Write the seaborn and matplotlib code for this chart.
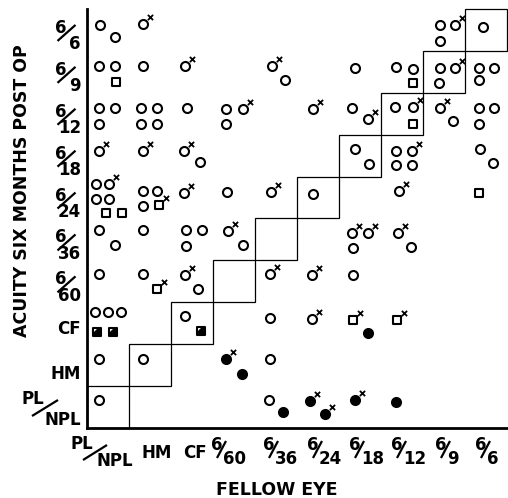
import numpy as np
import pandas as pd
import matplotlib
matplotlib.use("Agg")
import matplotlib.pyplot as plt
import seaborn as sns
from matplotlib.patches import Rectangle

# ---------------- data ----------------
# categories (bottom/left to top/right)
fellow_eye = ["PL/NPL", "HM", "CF", "6/60", "6/36", "6/24", "6/18", "6/12", "6/9", "6/6"]
post_op = ["PL/NPL", "HM", "CF", "6/60", "6/36", "6/24", "6/18", "6/12", "6/9", "6/6"]

# symbol codes: o open circle, m open circle with cross, s open square,
# sx open square with cross, h half-filled square, f filled circle,
# fm filled circle with cross
# each post-op row: list of (fellow eye acuity, symbol)
row_6_6 = [("PL/NPL", "o"), ("PL/NPL", "o"), ("HM", "m"),
           ("6/9", "o"), ("6/9", "m"), ("6/9", "o"), ("6/6", "o")]
row_6_9 = [("PL/NPL", "o"), ("PL/NPL", "o"), ("PL/NPL", "s"), ("HM", "o"), ("CF", "m"),
           ("6/36", "m"), ("6/36", "o"), ("6/18", "o"),
           ("6/12", "o"), ("6/12", "o"), ("6/12", "s"),
           ("6/9", "o"), ("6/9", "m"), ("6/9", "o"),
           ("6/6", "o"), ("6/6", "o"), ("6/6", "o")]
row_6_12 = [("PL/NPL", "o"), ("PL/NPL", "o"), ("PL/NPL", "o"),
            ("HM", "o"), ("HM", "o"), ("HM", "o"), ("HM", "o"), ("CF", "o"),
            ("6/60", "o"), ("6/60", "m"), ("6/60", "o"), ("6/24", "m"),
            ("6/18", "o"), ("6/18", "m"),
            ("6/12", "o"), ("6/12", "m"), ("6/12", "s"),
            ("6/9", "m"), ("6/9", "o"),
            ("6/6", "o"), ("6/6", "o"), ("6/6", "o")]
row_6_18 = [("PL/NPL", "m"), ("HM", "m"), ("CF", "m"), ("CF", "o"),
            ("6/18", "o"), ("6/18", "o"),
            ("6/12", "o"), ("6/12", "m"), ("6/12", "o"), ("6/12", "o"),
            ("6/6", "o"), ("6/6", "o")]
row_6_24 = [("PL/NPL", "o"), ("PL/NPL", "m"), ("PL/NPL", "o"), ("PL/NPL", "o"),
            ("PL/NPL", "s"), ("PL/NPL", "s"),
            ("HM", "o"), ("HM", "o"), ("HM", "o"), ("HM", "sx"),
            ("CF", "m"), ("6/60", "o"), ("6/36", "m"), ("6/24", "o"),
            ("6/12", "m"), ("6/6", "s")]
row_6_36 = [("PL/NPL", "o"), ("PL/NPL", "o"), ("HM", "o"),
            ("CF", "o"), ("CF", "o"), ("CF", "o"),
            ("6/60", "m"), ("6/60", "o"),
            ("6/18", "m"), ("6/18", "m"), ("6/18", "o"),
            ("6/12", "m"), ("6/12", "o")]
row_6_60 = [("PL/NPL", "o"), ("HM", "o"), ("HM", "sx"), ("CF", "m"), ("CF", "o"),
            ("6/36", "m"), ("6/24", "m"), ("6/18", "o")]
row_cf = [("PL/NPL", "o"), ("PL/NPL", "o"), ("PL/NPL", "o"), ("PL/NPL", "h"), ("PL/NPL", "h"),
          ("CF", "o"), ("CF", "h"), ("6/36", "o"), ("6/24", "m"),
          ("6/18", "sx"), ("6/18", "f"), ("6/12", "sx")]
row_hm = [("PL/NPL", "o"), ("HM", "o"), ("6/60", "fm"), ("6/60", "f"), ("6/36", "o")]
row_pl = [("PL/NPL", "o"), ("6/36", "o"), ("6/36", "f"),
          ("6/24", "fm"), ("6/24", "fm"), ("6/18", "fm"), ("6/12", "f")]

rows = {"6/6": row_6_6, "6/9": row_6_9, "6/12": row_6_12, "6/18": row_6_18,
        "6/24": row_6_24, "6/36": row_6_36, "6/60": row_6_60, "CF": row_cf,
        "HM": row_hm, "PL/NPL": row_pl}

# ---------------- layout (pixel offsets of each symbol inside its cell) ----------------
off_6_6 = [(-8, -5), (7, 7), (-7, -6), (-4, -5), (11, -5), (-4, 11), (-3, -3)]
off_6_9 = [(-9, -6), (7, -6), (8, 10), (-7, -6), (-7, -6), (-4, -6), (9, 8), (-5, -4),
           (-6, -5), (11, -3), (11, 11), (-4, -4), (11, -4), (-5, 11), (-7, -4), (8, -4), (-7, 8)]
off_6_12 = [(-9, -6), (7, -6), (-9, 10), (-9, -6), (7, -6), (-9, 10), (7, 10), (-5, -6),
            (-8, -5), (9, -5), (-8, 10), (-5, -5), (-8, -6), (8, 5), (-7, -7), (11, -7), (11, 10),
            (-4, -6), (9, 7), (-7, -6), (8, -6), (-7, 10)]
off_6_18 = [(-9, -5), (-7, -5), (-8, -5), (8, 6), (-5, -7), (9, 8),
            (-6, -5), (10, -5), (-6, 9), (10, 9), (-6, -7), (7, 7)]
off_6_24 = [(-12, -14), (1, -14), (-12, 1), (1, 1), (-2, 15), (14, 15),
            (-7, -7), (7, -7), (-7, 8), (9, 7), (-8, -5), (-7, -6), (-5, -6), (-5, -4),
            (-3, -7), (-7, -5)]
off_6_36 = [(-9, -9), (7, 6), (-7, -9), (-6, -9), (10, -9), (-6, 7), (-6, -8), (9, 6),
            (-8, -6), (8, -6), (-7, 9), (-4, -6), (9, 8)]
off_6_60 = [(-9, -7), (-7, -7), (7, 8), (-7, -6), (6, 8), (-6, -7), (-6, -6), (-7, -6)]
off_cf = [(-13, -11), (0, -11), (13, -11), (-11, 9), (5, 9), (-7, -7), (9, 8), (-6, -5),
          (-6, -4), (-7, -3), (8, 10), (-5, -3)]
off_hm = [(-9, -6), (-7, -6), (-8, -6), (8, 9), (-6, -6)]
off_pl = [(-9, -7), (-7, -7), (7, 5), (-8, -6), (7, 7), (-5, -7), (-6, -5)]
offsets = {"6/6": off_6_6, "6/9": off_6_9, "6/12": off_6_12, "6/18": off_6_18,
           "6/24": off_6_24, "6/36": off_6_36, "6/60": off_6_60, "CF": off_cf,
           "HM": off_hm, "PL/NPL": off_pl}

# geometry of the drawing (pixels)
W, H = 508, 498
AX_L, AX_R, AX_T, AX_B = 87, 507, 9, 428
CW = (AX_R - AX_L) / 10.0
RH = (AX_B - AX_T) / 10.0

recs = []
for r_lab, items in rows.items():
    for (f_lab, sym), (dx, dy) in zip(items, offsets[r_lab]):
        cx = fellow_eye.index(f_lab) + 0.5
        cy = post_op.index(r_lab) + 0.5
        recs.append(dict(x=cx + dx / CW, y=cy - dy / RH, sym=sym))
df = pd.DataFrame(recs)

# ---------------- figure ----------------
sns.set_style("white")
plt.rcParams["font.family"] = ["DejaVu Sans"]
plt.rcParams["text.color"] = "black"
fig = plt.figure(figsize=(W / 100, H / 100), dpi=100)
ax = fig.add_axes([AX_L / W, (H - AX_B) / H, (AX_R - AX_L) / W, (AX_B - AX_T) / H])
ax.set_xlim(0, 10)
ax.set_ylim(0, 10)
ax.set_xticks([])
ax.set_yticks([])
for s in ["top", "right"]:
    ax.spines[s].set_visible(False)
for s in ["left", "bottom"]:
    ax.spines[s].set_linewidth(2.0)
    ax.spines[s].set_color("black")
    ax.spines[s].set_zorder(5)

# diagonal (equal acuity) cells
for i in range(10):
    ax.add_patch(Rectangle((i, i), 1, 1, fill=False, edgecolor="black", lw=0.9,
                           clip_on=False, zorder=1))

S_C = 42
S_S = 36
LW = 1.5

def sel(*codes):
    return df[df.sym.isin(codes)]

# open circles (incl. those with cross)
sns.scatterplot(data=sel("o", "m"), x="x", y="y", marker="o", s=S_C, color="white",
                edgecolor="black", linewidth=LW, legend=False, ax=ax, zorder=3, clip_on=False)
# filled circles
sns.scatterplot(data=sel("f", "fm"), x="x", y="y", marker="o", s=S_C, color="black",
                edgecolor="black", linewidth=LW, legend=False, ax=ax, zorder=3, clip_on=False)
# squares
sns.scatterplot(data=sel("s", "sx", "h"), x="x", y="y", marker="s", s=S_S, color="white",
                edgecolor="black", linewidth=LW, legend=False, ax=ax, zorder=3, clip_on=False)
# half filled part
half = [(-1, -1), (1, -1), (1, 1), (0.2, 1), (-1, -0.2), (-1, -1)]
sns.scatterplot(data=sel("h"), x="x", y="y", marker=half, s=S_S, color="black",
                edgecolor="none", linewidth=0, legend=False, ax=ax, zorder=4, clip_on=False)
# small crosses
cr = sel("m", "fm", "sx").copy()
cr["x"] = cr["x"] + 7 / CW
cr["y"] = cr["y"] + 7 / RH
sns.scatterplot(data=cr, x="x", y="y", marker="x", s=14, color="black",
                linewidth=1.3, legend=False, ax=ax, zorder=4, clip_on=False)

# ---------------- labels ----------------
FS = 12

def P(px, py):
    return ((px - AX_L) / CW, (AX_B - py) / RH)

def txt(px, py, s, ha="center", fs=FS, **kw):
    x, y = P(px, py)
    ax.text(x, y, s, ha=ha, va="baseline", fontsize=fs, fontweight="bold",
            color="black", clip_on=False, **kw)

def slash(p0, p1, lw=1.6):
    (x0, y0), (x1, y1) = P(*p0), P(*p1)
    ax.plot([x0, x1], [y0, y1], color="black", lw=lw, clip_on=False,
            solid_capstyle="butt")

# x tick labels
x_shift = {"6/60": -12, "6/36": -2, "6/9": 2}
for i, lab in enumerate(fellow_eye):
    cx = AX_L + CW * (i + 0.5)
    if lab.startswith("6/"):
        sh = x_shift.get(lab, 0)
        num, den = lab.split("/")
        txt(cx - 5 + sh, 450, num)
        txt(cx + 1 + sh, 463.5, den, ha="left")
        slash((cx - 5 + sh, 458), (cx + 4 + sh, 441))
    elif lab == "PL/NPL":
        txt(82, 449, "PL")
        txt(115, 466, "NPL")
        slash((83, 460), (107, 445))
    else:
        txt(cx + (7 if lab == "HM" else 3), 458, lab)

# y tick labels
for j, lab in enumerate(post_op):
    cy = AX_B - RH * (j + 0.5)
    if lab.startswith("6/"):
        num, den = lab.split("/")
        txt(66, cy + 3, num, ha="right")
        txt(81, cy + 19.5, den, ha="right")
        slash((57.5, cy + 11), (75.5, cy - 5))
    elif lab == "PL/NPL":
        txt(33, 403.5, "PL")
        txt(81, 425, "NPL", ha="right")
        slash((32, 416), (58, 400))
    else:
        txt(81, cy + (11 if lab == "CF" else 14), lab, ha="right")

# axis titles
x, y = P(27, 190.5)
ax.text(x, y, "ACUITY SIX MONTHS POST OP", rotation=90, rotation_mode="anchor",
        ha="center", va="baseline", fontsize=12.5, fontweight="bold", color="black",
        clip_on=False)
txt(277, 495, "FELLOW EYE", fs=12.5)

fig.savefig("out.png", dpi=100, facecolor="white")
